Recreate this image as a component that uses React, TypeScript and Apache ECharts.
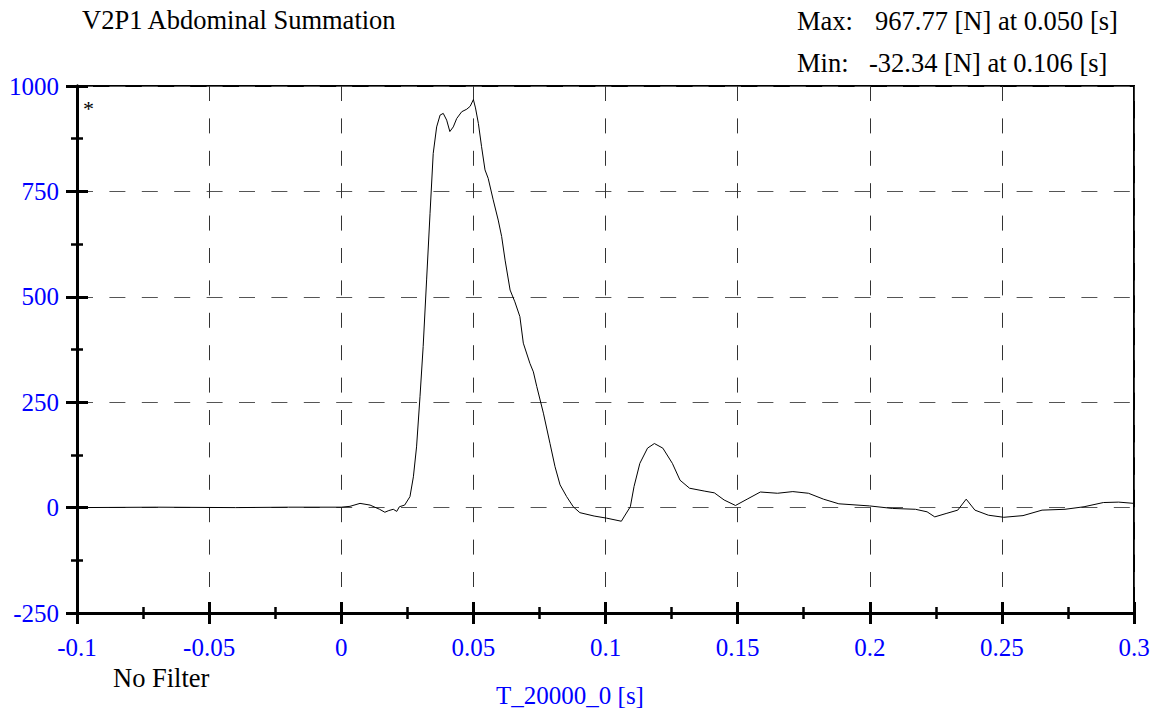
import React, { useEffect, useRef } from "react";
import * as echarts from "echarts";

const titleText = "V2P1 Abdominal Summation";
const maxLabel = "Max:";
const maxValue = "967.77 [N] at 0.050 [s]";
const minLabel = "Min:";
const minValue = "-32.34 [N] at 0.106 [s]";
const filterText = "No Filter";
const xAxisName = "T_20000_0 [s]";

const xTicks = { min: -0.1, max: 0.3, interval: 0.05 };
const yTicks = { min: -250, max: 1000, interval: 250 };

const timeS = [
  -0.1, -0.07, -0.04, -0.02, 0, 0.0033, 0.0071, 0.0109, 0.0145, 0.0165, 0.018, 0.0197, 0.021, 0.022, 0.024,
  0.026, 0.0273, 0.0285, 0.0298, 0.031, 0.0323, 0.0336, 0.0348, 0.0361, 0.0374, 0.0386, 0.0399,
  0.0411, 0.0424, 0.0437, 0.0456, 0.0475, 0.0488, 0.05, 0.0508, 0.0519, 0.0531, 0.0544, 0.0556,
  0.0575, 0.0594, 0.0607, 0.062, 0.0639, 0.0657, 0.0676, 0.0689, 0.0714, 0.0727, 0.074, 0.0765,
  0.079, 0.0809, 0.0828, 0.0853, 0.0878, 0.0903, 0.0957, 0.1004, 0.106, 0.1072, 0.1094, 0.1108,
  0.113, 0.1159, 0.1185, 0.1217, 0.1253, 0.1282, 0.1318, 0.1376, 0.1412, 0.1449, 0.1492, 0.1536,
  0.1586, 0.1651, 0.1709, 0.1768, 0.1825, 0.1883, 0.1999, 0.2086, 0.2173, 0.2217, 0.2246, 0.2289,
  0.2333, 0.2365, 0.2398, 0.2449, 0.2507, 0.258, 0.2652, 0.2739, 0.2811, 0.2884, 0.2942, 0.3,
];

const forceN = [
  0, 1, 0, 1, 1, 3, 10, 6, -4, -11, -7, -4, -9, 2, 6,
  26, 73, 144, 263, 382, 540, 698, 840, 903, 931, 935, 919,
  892, 903, 923, 939, 945, 952, 967.77, 948, 911, 856, 801, 781,
  730, 682, 643, 587, 516, 488, 453, 390, 342, 322, 287, 224,
  152, 97, 54, 26, 2, -12, -20, -25, -32.34, -20, 2, 50,
  105, 141, 152, 141, 105, 65, 46, 39, 35, 18, 5, 20,
  37, 34, 38, 34, 20, 9, 4, -2, -4, -10, -22, -14,
  -6, 20, -6, -18, -23, -19, -6, -4, 2, 12, 13, 10,
];

const serif = "Liberation Serif";
const blue = "#0000ff";

export default function App() {
  const ref = useRef<HTMLDivElement>(null);

  useEffect(() => {
    if (!ref.current) return;
    const chart = echarts.init(ref.current, null, { renderer: "svg" });
    const data = timeS.map((t, i) => [t, forceN[i]]);

    const xBase = { type: "value", min: xTicks.min, max: xTicks.max, interval: xTicks.interval, position: "bottom" };
    const yBase = { type: "value", min: yTicks.min, max: yTicks.max, interval: yTicks.interval, position: "left" };
    const tickStyle = { color: "#000", width: 3 };
    const minorStyle = { color: "#000", width: 2.5 };
    const axisLine = { onZero: false, lineStyle: { color: "#000", width: 3 } };
    const blackFont = `26.5px ${serif}`;

    chart.setOption({
      animation: false,
      grid: {
        left: 77,
        right: 25,
        top: 86,
        bottom: 100,
        show: true,
        borderColor: "#000",
        borderWidth: 2,
        backgroundColor: "transparent",
      },
      xAxis: [
        {
          ...xBase,
          axisLine,
          axisTick: { inside: true, length: 11, lineStyle: tickStyle },
          minorTick: { show: true, splitNumber: 2, length: 6, lineStyle: minorStyle },
          splitLine: { show: true, lineStyle: { color: "#333", width: 1, type: [15, 17.4] } },
          axisLabel: {
            color: blue,
            fontFamily: serif,
            fontSize: 25,
            margin: 22,
            formatter: (v: number) => String(+v.toFixed(3)),
          },
        },
        {
          ...xBase,
          axisLine,
          axisTick: { inside: false, length: 11, lineStyle: tickStyle },
          minorTick: { show: true, splitNumber: 2, length: 6, lineStyle: minorStyle },
          splitLine: { show: false },
          axisLabel: { show: false },
        },
      ],
      yAxis: [
        {
          ...yBase,
          axisLine,
          axisTick: { inside: true, length: 11, lineStyle: tickStyle },
          minorTick: { show: true, splitNumber: 2, length: 6, lineStyle: minorStyle },
          splitLine: { show: true, lineStyle: { color: "#555", width: 1, type: [16, 16.4] } },
          axisLabel: {
            color: blue,
            fontFamily: serif,
            fontSize: 25,
            margin: 18,
            padding: [8, 0, 0, 0],
            formatter: (v: number) => String(v),
          },
        },
        {
          ...yBase,
          axisLine,
          axisTick: { inside: false, length: 11, lineStyle: tickStyle },
          minorTick: { show: true, splitNumber: 2, length: 6, lineStyle: minorStyle },
          splitLine: { show: false },
          axisLabel: { show: false },
        },
      ],
      series: [
        {
          type: "line",
          xAxisIndex: 0,
          yAxisIndex: 0,
          data,
          showSymbol: false,
          symbol: "none",
          lineStyle: { color: "#000", width: 1 },
          z: 1,
        },
      ],
      graphic: [
        { type: "text", x: 82, y: 20, style: { text: titleText, fill: "#000", font: blackFont, verticalAlign: "middle" } },
        { type: "text", x: 797, y: 21, style: { text: maxLabel, fill: "#000", font: blackFont, verticalAlign: "middle" } },
        { type: "text", x: 875, y: 21, style: { text: maxValue, fill: "#000", font: blackFont, verticalAlign: "middle" } },
        { type: "text", x: 797, y: 63, style: { text: minLabel, fill: "#000", font: blackFont, verticalAlign: "middle" } },
        { type: "text", x: 869, y: 63, style: { text: minValue, fill: "#000", font: blackFont, verticalAlign: "middle" } },
        { type: "text", x: 83, y: 108, style: { text: "*", fill: "#000", font: `22px ${serif}`, verticalAlign: "middle" } },
        { type: "text", x: 113, y: 678, style: { text: filterText, fill: "#000", font: blackFont, verticalAlign: "middle" } },
        { type: "text", x: 570, y: 695, style: { text: xAxisName, fill: blue, font: `25px ${serif}`, align: "center", verticalAlign: "middle" } },
      ],
    });
    return () => chart.dispose();
  }, []);

  return (
    <div
      ref={ref}
      style={{ position: "absolute", left: 0, top: 0, width: 1159, height: 713, background: "#fff" }}
    />
  );
}
